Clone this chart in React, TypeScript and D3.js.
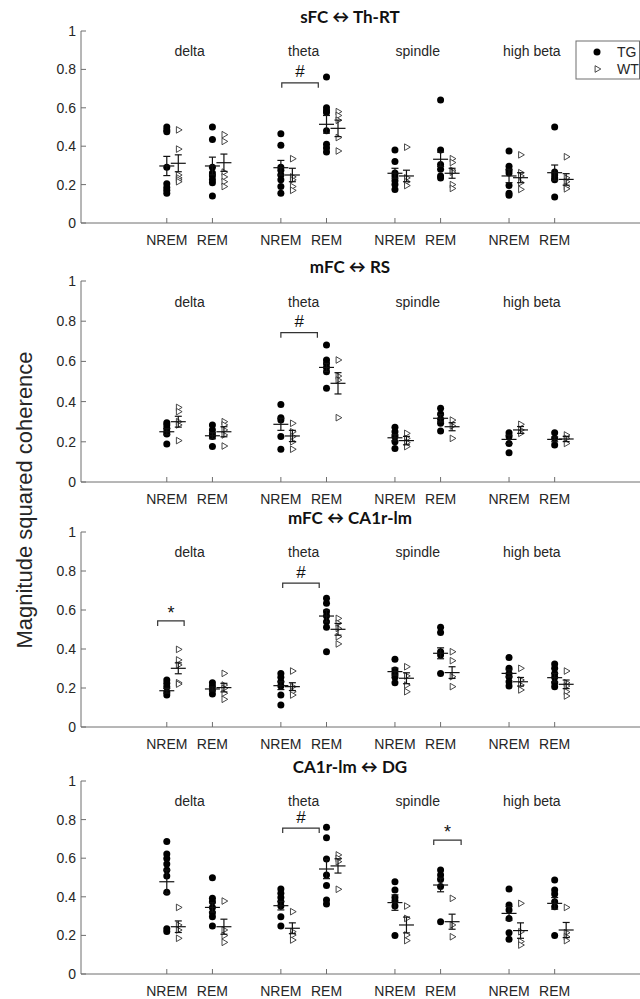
import React from 'react';
import * as d3 from 'd3';

// categories
const bands = ['delta', 'theta', 'spindle', 'high beta'];
const stages = ['NREM', 'REM'];
const catPos = [1, 2, 3.5, 4.5, 6, 7, 8.5, 9.5];
const yTicks = [0, 0.2, 0.4, 0.6, 0.8, 1];
const titles = ['sFC \u2194 Th-RT', 'mFC \u2194 RS', 'mFC \u2194 CA1r-lm', 'CA1r-lm \u2194 DG'];

// panel 1 : sFC <-> Th-RT
const tg1 = [
  [0.5, 0.485, 0.475, 0.29, 0.205, 0.185, 0.17, 0.155],
  [0.5, 0.435, 0.29, 0.26, 0.245, 0.225, 0.21, 0.14],
  [0.465, 0.405, 0.29, 0.275, 0.25, 0.225, 0.19, 0.155],
  [0.76, 0.6, 0.585, 0.575, 0.48, 0.41, 0.39, 0.37],
  [0.38, 0.32, 0.26, 0.245, 0.22, 0.2, 0.175],
  [0.64, 0.38, 0.305, 0.28, 0.245, 0.235],
  [0.375, 0.295, 0.275, 0.26, 0.195, 0.155, 0.145],
  [0.5, 0.265, 0.25, 0.235, 0.225, 0.135],
];
const tg1Mean = [0.297, 0.297, 0.288, 0.514, 0.259, 0.332, 0.245, 0.262];
const tg1Sem = [0.05, 0.046, 0.038, 0.046, 0.026, 0.037, 0.035, 0.04];
const wt1 = [
  [0.485, 0.385, 0.25, 0.235, 0.225, 0.215],
  [0.46, 0.425, 0.265, 0.24, 0.215, 0.19],
  [0.335, 0.24, 0.225, 0.19, 0.17],
  [0.58, 0.56, 0.535, 0.445, 0.375],
  [0.395, 0.235, 0.215, 0.195],
  [0.335, 0.315, 0.275, 0.265, 0.2, 0.18],
  [0.355, 0.262, 0.245, 0.21, 0.175],
  [0.345, 0.235, 0.215, 0.19, 0.178],
];
const wt1Mean = [0.311, 0.314, 0.25, 0.493, 0.245, 0.259, 0.236, 0.227];
const wt1Sem = [0.044, 0.045, 0.035, 0.043, 0.03, 0.026, 0.026, 0.03];

// panel 2 : mFC <-> RS
const tg2 = [
  [0.295, 0.284, 0.267, 0.25, 0.239, 0.189],
  [0.284, 0.259, 0.239, 0.226, 0.176],
  [0.386, 0.32, 0.308, 0.226, 0.163],
  [0.682, 0.607, 0.59, 0.57, 0.549, 0.466],
  [0.272, 0.25, 0.226, 0.2, 0.167],
  [0.367, 0.338, 0.312, 0.292, 0.254],
  [0.245, 0.226, 0.192, 0.146],
  [0.245, 0.217, 0.184],
];
const tg2Mean = [0.25, 0.23, 0.287, 0.57, 0.22, 0.317, 0.212, 0.212];
const tg2Sem = [0.015, 0.015, 0.03, 0.02, 0.015, 0.018, 0.021, 0.012];
const wt2 = [
  [0.371, 0.35, 0.3, 0.284, 0.206],
  [0.3, 0.284, 0.259, 0.234, 0.179],
  [0.292, 0.25, 0.226, 0.2, 0.163],
  [0.607, 0.527, 0.507, 0.32],
  [0.242, 0.217, 0.196, 0.176],
  [0.308, 0.279, 0.217],
  [0.287, 0.259, 0.242],
  [0.234, 0.217, 0.192],
];
const wt2Mean = [0.3, 0.25, 0.229, 0.491, 0.206, 0.275, 0.259, 0.214];
const wt2Sem = [0.027, 0.025, 0.028, 0.053, 0.021, 0.02, 0.017, 0.013];

// panel 3 : mFC <-> CA1r-lm
const tg3 = [
  [0.241, 0.224, 0.207, 0.181, 0.164],
  [0.227, 0.21, 0.19, 0.169],
  [0.275, 0.255, 0.232, 0.21, 0.164, 0.113],
  [0.66, 0.634, 0.591, 0.569, 0.54, 0.511, 0.386],
  [0.347, 0.292, 0.275, 0.255, 0.227],
  [0.511, 0.484, 0.386, 0.369, 0.275],
  [0.357, 0.301, 0.275, 0.258, 0.232, 0.21],
  [0.323, 0.301, 0.275, 0.255, 0.227, 0.207],
];
const tg3Mean = [0.186, 0.195, 0.212, 0.569, 0.284, 0.378, 0.275, 0.253];
const tg3Sem = [0.012, 0.01, 0.02, 0.03, 0.018, 0.028, 0.018, 0.022];
const wt3 = [
  [0.398, 0.344, 0.318, 0.227, 0.22],
  [0.275, 0.215, 0.198, 0.173, 0.142],
  [0.287, 0.207, 0.181, 0.164],
  [0.557, 0.532, 0.506, 0.463, 0.426],
  [0.309, 0.262, 0.215, 0.181],
  [0.386, 0.34, 0.258, 0.207],
  [0.301, 0.241, 0.215, 0.19],
  [0.287, 0.227, 0.21, 0.181, 0.159],
];
const wt3Mean = [0.301, 0.202, 0.207, 0.501, 0.25, 0.279, 0.232, 0.219];
const wt3Sem = [0.028, 0.022, 0.02, 0.03, 0.028, 0.03, 0.022, 0.022];

// panel 4 : CA1r-lm <-> DG
const tg4 = [
  [0.686, 0.622, 0.599, 0.57, 0.539, 0.508, 0.423, 0.235, 0.22],
  [0.499, 0.392, 0.375, 0.345, 0.318, 0.297, 0.249],
  [0.44, 0.418, 0.397, 0.375, 0.352, 0.297, 0.249],
  [0.76, 0.706, 0.596, 0.513, 0.458, 0.383, 0.363],
  [0.478, 0.435, 0.397, 0.378, 0.352, 0.199],
  [0.539, 0.513, 0.49, 0.453, 0.271],
  [0.44, 0.357, 0.332, 0.288, 0.214, 0.18],
  [0.487, 0.435, 0.415, 0.375, 0.349, 0.199],
];
const tg4Mean = [0.478, 0.345, 0.354, 0.544, 0.37, 0.461, 0.314, 0.366];
const tg4Sem = [0.06, 0.024, 0.022, 0.05, 0.04, 0.035, 0.035, 0.03];
const wt4 = [
  [0.345, 0.254, 0.228, 0.185],
  [0.378, 0.228, 0.199, 0.164],
  [0.323, 0.219, 0.202, 0.176],
  [0.617, 0.599, 0.582, 0.439],
  [0.352, 0.288, 0.202, 0.173],
  [0.392, 0.254, 0.193],
  [0.366, 0.219, 0.168, 0.15],
  [0.345, 0.214, 0.193, 0.173],
];
const wt4Mean = [0.245, 0.245, 0.237, 0.56, 0.254, 0.271, 0.225, 0.228];
const wt4Sem = [0.03, 0.039, 0.028, 0.037, 0.041, 0.039, 0.04, 0.039];

// significance brackets: [from, to] in category units, height in coherence units
const sig1 = [{ from: 3.52, to: 4.32, y: 0.73, label: '#' }];
const sig2 = [{ from: 3.5, to: 4.3, y: 0.743, label: '#' }];
const sig3 = [
  { from: 0.8, to: 1.38, y: 0.544, label: '*' },
  { from: 3.54, to: 4.34, y: 0.738, label: '#' },
];
const sig4 = [
  { from: 3.54, to: 4.34, y: 0.756, label: '#' },
  { from: 6.85, to: 7.45, y: 0.694, label: '*' },
];

const panels = [
  { title: titles[0], tg: tg1, tgMean: tg1Mean, tgSem: tg1Sem, wt: wt1, wtMean: wt1Mean, wtSem: wt1Sem, sig: sig1, top: 31, bottom: 223 },
  { title: titles[1], tg: tg2, tgMean: tg2Mean, tgSem: tg2Sem, wt: wt2, wtMean: wt2Mean, wtSem: wt2Sem, sig: sig2, top: 281, bottom: 482 },
  { title: titles[2], tg: tg3, tgMean: tg3Mean, tgSem: tg3Sem, wt: wt3, wtMean: wt3Mean, wtSem: wt3Sem, sig: sig3, top: 532, bottom: 727 },
  { title: titles[3], tg: tg4, tgMean: tg4Mean, tgSem: tg4Sem, wt: wt4, wtMean: wt4Mean, wtSem: wt4Sem, sig: sig4, top: 781, bottom: 974 },
];

const W = 640;
const H = 999;
const AXIS = '#6e6e6e';
const TEXT = '#262626';
const FONT = '"Liberation Sans", Arial, sans-serif';
const WT_DX = 11.5;

const x = d3.scaleLinear().domain([-0.88, 11.37]).range([81, 640]);
const tri = d3.symbol().type(d3.symbolTriangle).size(19)() as string;

const ErrBar = ({ cx, y, mean, sem }: { cx: number; y: d3.ScaleLinear<number, number>; mean: number; sem: number }) => (
  <g stroke="#111" strokeWidth={1.2} fill="none">
    <line x1={cx} x2={cx} y1={y(mean - sem)} y2={y(mean + sem)} />
    <line x1={cx - 3.5} x2={cx + 3.5} y1={y(mean - sem)} y2={y(mean - sem)} />
    <line x1={cx - 3.5} x2={cx + 3.5} y1={y(mean + sem)} y2={y(mean + sem)} />
    <line x1={cx - 7.5} x2={cx + 7.5} y1={y(mean)} y2={y(mean)} />
  </g>
);

const Panel = ({ p, idx }: { p: typeof panels[number]; idx: number }) => {
  const y = d3.scaleLinear().domain([0, 1]).range([p.bottom, p.top]);
  const x0 = x.range()[0];
  return (
    <g>
      <text x={350} y={p.top - 15} textAnchor="middle" dominantBaseline="central"
        fontFamily='Lato, "Open Sans", sans-serif' fontWeight={700} fontSize={17} fill="#111">{p.title}</text>

      {/* axes */}
      <line x1={x0} x2={x0} y1={p.top} y2={p.bottom} stroke={AXIS} strokeWidth={1} />
      <line x1={x0} x2={W} y1={p.bottom} y2={p.bottom} stroke={AXIS} strokeWidth={1} />
      {yTicks.map(t => (
        <g key={t}>
          <line x1={x0} x2={x0 + 5} y1={y(t)} y2={y(t)} stroke={AXIS} />
          <text x={x0 - 5} y={y(t)} textAnchor="end" dominantBaseline="central"
            fontFamily={FONT} fontSize={14} fill={TEXT}>{t}</text>
        </g>
      ))}
      {catPos.map((c, i) => (
        <g key={i}>
          <line x1={x(c)} x2={x(c)} y1={p.bottom} y2={p.bottom - 5} stroke={AXIS} />
          <text x={x(c)} y={p.bottom + 17} textAnchor="middle" dominantBaseline="central"
            fontFamily={FONT} fontSize={14} fill={TEXT}>{stages[i % 2]}</text>
        </g>
      ))}
      {bands.map((b, i) => (
        <text key={b} x={x((catPos[i * 2] + catPos[i * 2 + 1]) / 2)} y={y(0.895)} textAnchor="middle"
          dominantBaseline="central" fontFamily={FONT} fontSize={14} fill={TEXT}>{b}</text>
      ))}

      {/* points */}
      {p.tg.map((vals, i) => vals.map((v, j) => (
        <circle key={`tg${i}-${j}`} cx={x(catPos[i])} cy={y(v)} r={3.5} fill="#000" />
      )))}
      {p.wt.map((vals, i) => vals.map((v, j) => (
        <path key={`wt${i}-${j}`} d={tri} transform={`translate(${x(catPos[i]) + WT_DX},${y(v)}) rotate(90)`}
          fill="#fff" stroke="#333" strokeWidth={0.9} />
      )))}
      {p.tgMean.map((m, i) => <ErrBar key={`tge${i}`} cx={x(catPos[i])} y={y} mean={m} sem={p.tgSem[i]} />)}
      {p.wtMean.map((m, i) => <ErrBar key={`wte${i}`} cx={x(catPos[i]) + WT_DX} y={y} mean={m} sem={p.wtSem[i]} />)}

      {/* significance */}
      {p.sig.map((s, i) => (
        <g key={`s${i}`}>
          <path d={`M${x(s.from)},${y(s.y) + 5}V${y(s.y)}H${x(s.to)}V${y(s.y) + 5}`} fill="none" stroke="#333" strokeWidth={1.2} />
          <text x={(x(s.from) + x(s.to)) / 2} y={y(s.y) - (s.label === '#' ? 11 : 8)} textAnchor="middle"
            dominantBaseline="central" fontFamily={FONT} fontSize={s.label === '#' ? 17 : 18} fill="#111">{s.label}</text>
        </g>
      ))}

      {idx === 0 && (
        <g>
          <rect x={576} y={41} width={63.5} height={38} fill="#fff" stroke={AXIS} strokeWidth={1} />
          <circle cx={597} cy={52} r={3.5} fill="#000" />
          <text x={617} y={52} dominantBaseline="central" fontFamily={FONT} fontSize={14} fill={TEXT}>TG</text>
          <path d={tri} transform="translate(597,69) rotate(90)" fill="#fff" stroke="#333" strokeWidth={0.9} />
          <text x={617} y={69} dominantBaseline="central" fontFamily={FONT} fontSize={14} fill={TEXT}>WT</text>
        </g>
      )}
    </g>
  );
};

export default function App() {
  return (
    <svg width={W} height={H} style={{ position: 'absolute', left: 0, top: 0, background: '#fff' }}>
      <rect width={W} height={H} fill="#fff" />
      <text transform={`translate(24,500) rotate(-90)`} textAnchor="middle" dominantBaseline="central"
        fontFamily={FONT} fontSize={22} fill={TEXT}>Magnitude squared coherence</text>
      {panels.map((p, i) => <Panel key={i} p={p} idx={i} />)}
    </svg>
  );
}
